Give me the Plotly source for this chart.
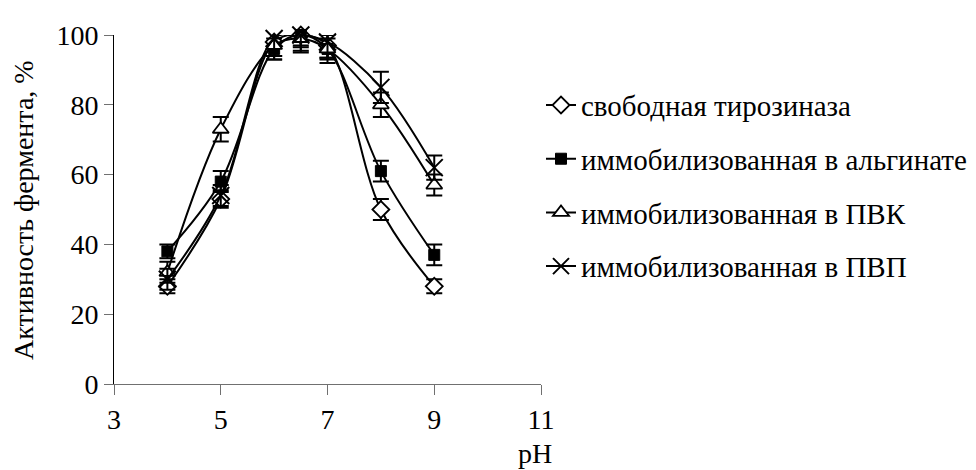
import plotly.graph_objects as go

ph = [4, 5, 6, 6.5, 7, 8, 9]

free_vals = [28, 53, 98, 100, 97, 50, 28]
free_err = [2, 2.5, 4, 3.5, 3.5, 3, 2]

alg_vals = [38, 58, 96, 100, 96, 61, 37]
alg_err = [2, 3, 3, 3, 3, 3, 3]

pvk_vals = [32, 73, 97, 99, 96, 80, 57]
pvk_err = [3, 3.5, 4, 4, 4, 3.5, 3]

pvp_vals = [30, 54, 99, 100, 98, 85, 62]
pvp_err = [3, 3, 5, 4.5, 4.5, 4.5, 3.5]

names = [
    "свободная тирозиназа",
    "иммобилизованная в альгинате",
    "иммобилизованная в ПВК",
    "иммобилизованная в ПВП",
]

x_ticks = [3, 5, 7, 9, 11]
y_ticks = [0, 20, 40, 60, 80, 100]

FONT = "Liberation Serif"

series = [
    (free_vals, free_err, dict(symbol="diamond", size=13, color="white", line=dict(color="black", width=1.8))),
    (alg_vals, alg_err, dict(symbol="square", size=11, color="black", line=dict(color="black", width=1))),
    (pvk_vals, pvk_err, dict(symbol="triangle-up", size=14, color="white", line=dict(color="black", width=1.8))),
    (pvp_vals, pvp_err, dict(symbol="x-thin", size=17, color="black", line=dict(color="black", width=2))),
]

fig = go.Figure()
for i, (vals, err, marker) in enumerate(series):
    fig.add_trace(go.Scatter(
        x=ph, y=vals, name=names[i], legendgroup=str(i),
        mode="lines+markers",
        line=dict(color="black", width=2, shape="spline"),
        marker=marker,
        error_y=dict(type="data", array=err, visible=True, color="black", thickness=2, width=8),
        cliponaxis=False,
    ))

fig.update_layout(
    width=976, height=470,
    margin=dict(l=106, r=442, t=24, b=94),
    paper_bgcolor="white", plot_bgcolor="white",
    font=dict(family=FONT, size=28, color="black"),
    showlegend=True,
    legend=dict(
        x=1.0, xanchor="left", y=0.872, yanchor="top",
        font=dict(family=FONT, size=29, color="black"),
        tracegroupgap=13, bgcolor="rgba(0,0,0,0)",
        traceorder="grouped",
    ),
    xaxis=dict(
        range=[3, 11], tickvals=x_ticks, ticktext=[str(v) for v in x_ticks],
        showgrid=False, zeroline=False, showline=True, linecolor="#707070", linewidth=1,
        ticks="outside", ticklen=10, tickcolor="#707070", tickwidth=1,
        tickfont=dict(family=FONT, size=28, color="black"),
    ),
    yaxis=dict(
        range=[0, 100], tickvals=y_ticks, ticktext=[str(v) for v in y_ticks],
        showgrid=False, zeroline=False, showline=True, linecolor="black", linewidth=1,
        ticks="outside", ticklen=9, tickcolor="#707070", tickwidth=1,
        tickfont=dict(family=FONT, size=28, color="black"),
    ),
    annotations=[
        dict(text="Активность фермента, %", xref="paper", yref="paper",
             x=-0.212, y=0.5, textangle=-90, showarrow=False,
             xanchor="center", yanchor="middle",
             font=dict(family=FONT, size=28, color="black")),
        dict(text="pH", xref="paper", yref="paper",
             x=0.986, y=-0.2, showarrow=False,
             xanchor="center", yanchor="middle",
             font=dict(family=FONT, size=28, color="black")),
    ],
)

fig.write_html("out.html")
